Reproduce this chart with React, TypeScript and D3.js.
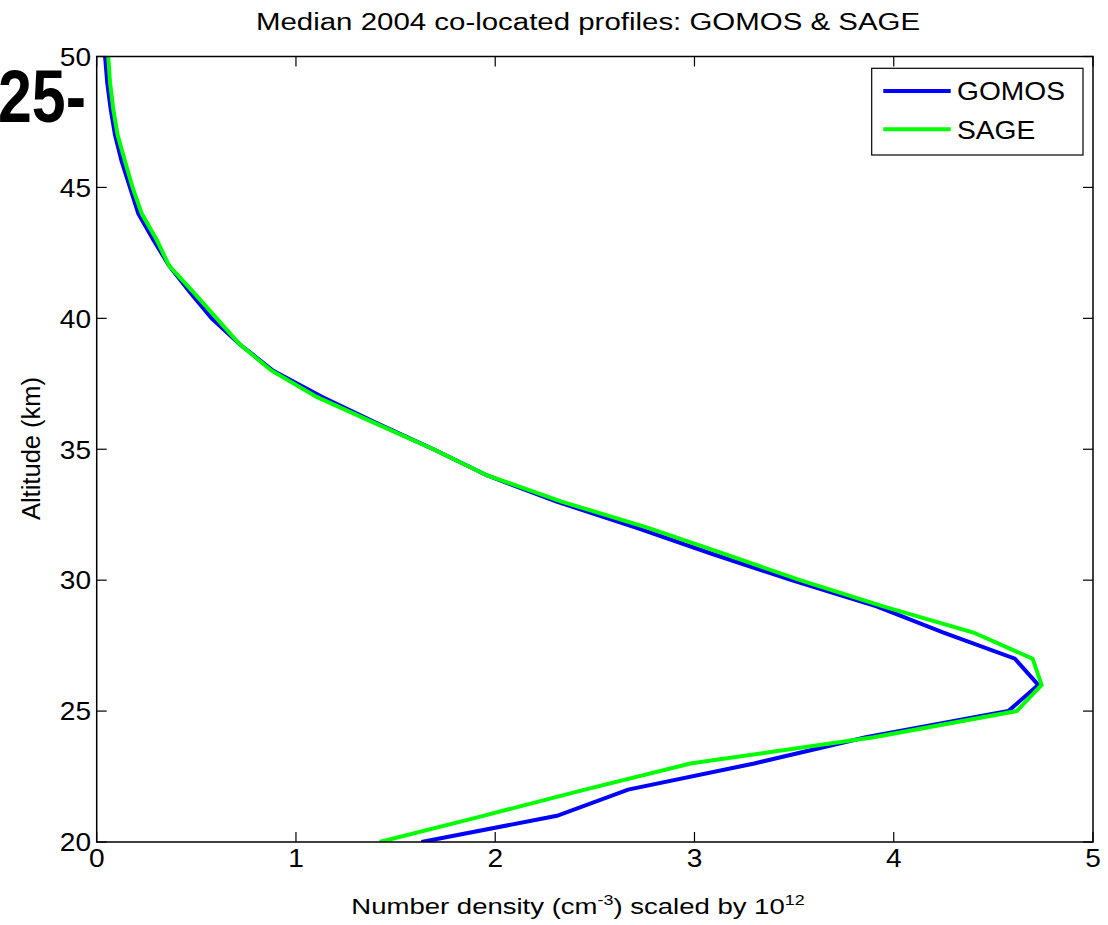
import React from "react";
import * as d3 from "d3";

// Altitude grid (km) shared by both profiles
const altitudes = [
  20, 21, 22, 23, 24, 25, 26, 27, 28, 29, 30, 31, 32, 33, 34, 35,
  36, 37, 38, 39, 40, 41, 42, 43, 44, 45, 46, 47, 48, 49, 50,
];

// Median ozone number density, scaled by 1e12 (cm^-3)
const gomos = [
  1.63, 2.31, 2.667, 3.3, 3.86, 4.575, 4.725, 4.608, 4.25, 3.914, 3.487,
  3.09, 2.71, 2.308, 1.96, 1.69, 1.405, 1.13, 0.886, 0.719, 0.577, 0.468,
  0.364, 0.284, 0.209, 0.167, 0.125, 0.092, 0.07, 0.053, 0.042,
];
const sage = [
  1.42, 1.94, 2.45, 2.98, 3.9, 4.617, 4.742, 4.697, 4.4, 3.947, 3.53, 3.15,
  2.768, 2.333, 1.96, 1.69, 1.396, 1.104, 0.878, 0.719, 0.602, 0.485, 0.364,
  0.301, 0.226, 0.18, 0.142, 0.105, 0.083, 0.067, 0.058,
];

const xTicks = [0, 1, 2, 3, 4, 5];
const yTicks = [20, 25, 30, 35, 40, 45, 50];

const seriesNames = ["GOMOS", "SAGE"];
const seriesColors = ["#0000ff", "#00ff00"];

const W = 1108;
const H = 925;
const M = { left: 96.7, right: 1093, top: 56.5, bottom: 842 };
const FONT = "'Liberation Sans', Arial, Helvetica, sans-serif";
const SX = 1.28;
const TICK_SX = 1.08;
const TICK = 10;

export default function App() {
  const x = d3.scaleLinear().domain([0, 5]).range([M.left, M.right]);
  const y = d3.scaleLinear().domain([20, 50]).range([M.bottom, M.top]);

  const line = d3
    .line<[number, number]>()
    .x((d) => x(d[0]))
    .y((d) => y(d[1]));

  const profiles = [gomos, sage].map((vals) =>
    vals.map((v, i) => [v, altitudes[i]] as [number, number])
  );

  const axisColor = "#000";

  return (
    <svg
      width={W}
      height={H}
      style={{ position: "absolute", left: 0, top: 0, background: "#fff" }}
      fontFamily={FONT}
    >
      <rect x={0} y={0} width={W} height={H} fill="#fff" />

      <defs>
        <clipPath id="plot-clip">
          <rect
            x={M.left}
            y={M.top}
            width={M.right - M.left}
            height={M.bottom - M.top}
          />
        </clipPath>
      </defs>

      {/* profile curves */}
      <g clipPath="url(#plot-clip)">
        {profiles.map((p, i) => (
          <path
            key={seriesNames[i]}
            d={line(p) || ""}
            fill="none"
            stroke={seriesColors[i]}
            strokeWidth={4}
            strokeLinejoin="miter"
          />
        ))}
      </g>

      {/* axes box */}
      <rect
        x={M.left}
        y={M.top}
        width={M.right - M.left}
        height={M.bottom - M.top}
        fill="none"
        stroke={axisColor}
        strokeWidth={1.5}
      />

      {/* x ticks (bottom and top) */}
      {xTicks.map((t) => (
        <g key={"x" + t}>
          <line
            x1={x(t)}
            x2={x(t)}
            y1={M.bottom}
            y2={M.bottom - TICK}
            stroke={axisColor}
            strokeWidth={1.2}
          />
          <line
            x1={x(t)}
            x2={x(t)}
            y1={M.top}
            y2={M.top + TICK}
            stroke={axisColor}
            strokeWidth={1.2}
          />
          <text
            transform={`translate(${x(t)},${866.7}) scale(${TICK_SX},1)`}
            textAnchor="middle"
            fontSize={26}
            fill="#000"
          >
            {t}
          </text>
        </g>
      ))}

      {/* y ticks (left and right) */}
      {yTicks.map((t) => (
        <g key={"y" + t}>
          <line
            x1={M.left}
            x2={M.left + TICK}
            y1={y(t)}
            y2={y(t)}
            stroke={axisColor}
            strokeWidth={1.2}
          />
          <line
            x1={M.right}
            x2={M.right - TICK}
            y1={y(t)}
            y2={y(t)}
            stroke={axisColor}
            strokeWidth={1.2}
          />
          <text
            transform={`translate(${91},${y(t) + 9.3}) scale(${TICK_SX},1)`}
            textAnchor="end"
            fontSize={26}
            fill="#000"
          >
            {t}
          </text>
        </g>
      ))}

      {/* title */}
      <text
        transform={`translate(${588},${30}) scale(${SX},1)`}
        textAnchor="middle"
        fontSize={23}
        fill="#000"
      >
        Median 2004 co-located profiles: GOMOS &amp; SAGE
      </text>

      {/* x label */}
      <text
        transform={`translate(${578},${914}) scale(${SX},1)`}
        textAnchor="middle"
        fontSize={21.5}
        fill="#000"
      >
        Number density (cm
        <tspan fontSize={14} dy={-9}>
          -3
        </tspan>
        <tspan dy={9}>) scaled by 10</tspan>
        <tspan fontSize={14} dy={-9}>
          12
        </tspan>
      </text>

      {/* y label */}
      <text
        transform={`translate(${40},${448.5}) rotate(-90)`}
        textAnchor="middle"
        fontSize={25.5}
        fill="#000"
      >
        Altitude (km)
      </text>

      {/* legend */}
      <g>
        <rect
          x={871.7}
          y={68.3}
          width={211.3}
          height={86.7}
          fill="#fff"
          stroke={axisColor}
          strokeWidth={1.2}
        />
        {seriesNames.map((name, i) => {
          const ly = 91 + i * 38.3;
          return (
            <g key={name}>
              <line
                x1={883.3}
                x2={950.7}
                y1={ly}
                y2={ly}
                stroke={seriesColors[i]}
                strokeWidth={4}
              />
              <text
                transform={`translate(${957},${ly + 9.2}) scale(${1.1},1)`}
                fontSize={25.6}
                fill="#000"
              >
                {name}
              </text>
            </g>
          );
        })}
      </g>

      {/* panel marker */}
      <text
        x={86}
        y={122}
        textAnchor="end"
        fontSize={75}
        fontWeight="bold"
        fill="#000"
        textLength={88}
        lengthAdjust="spacingAndGlyphs"
      >
        25-
      </text>
    </svg>
  );
}
